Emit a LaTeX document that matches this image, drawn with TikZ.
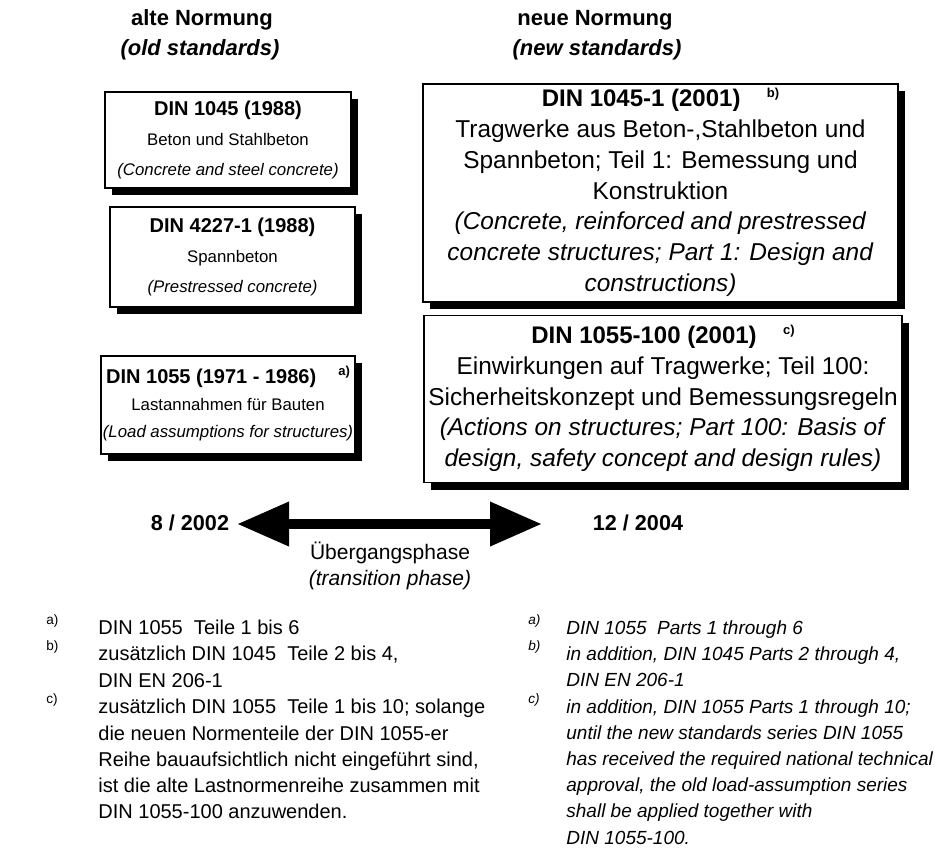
\documentclass[tikz,border=0pt]{standalone}
\usepackage{fontspec}
\setmainfont{Liberation Sans}
\usetikzlibrary{positioning,arrows.meta,shadows}
\newcommand{\oldtitle}[1]{{\fontsize{10}{15}\selectfont\bfseries #1}}
\newcommand{\newtitle}[1]{{\fontsize{12}{15}\selectfont\bfseries #1}}
\newcommand{\fnref}[1]{\hspace{1.1em}\smash{\raisebox{0.75ex}{\fontsize{6.5}{6.5}\selectfont\bfseries #1}}}

\begin{document}
\begin{tikzpicture}[
  x=0.5pt, y=-0.5pt,
  box/.style={draw=black, line width=0.75pt, fill=white, align=center, inner sep=1pt,
    drop shadow={shadow xshift=3.5pt, shadow yshift=-3.5pt, fill=black, opacity=1}},
  oldbox/.style={box, font=\fontsize{8.4}{15.2}\selectfont},
  newbox/.style={box, font=\fontsize{12.2}{15.4}\selectfont},
  head/.style={font=\fontsize{11}{14}\selectfont\bfseries},
  datum/.style={font=\fontsize{10.8}{14}\selectfont\bfseries},
  phase/.style={font=\fontsize{10.5}{13}\selectfont},
  note/.style={anchor=north west, inner sep=0pt, align=left, font=\fontsize{10}{13.1}\selectfont},
  noteE/.style={note, font=\fontsize{9.5}{13.1}\selectfont\itshape},
  fnmark/.style={anchor=north west, inner sep=0pt, font=\fontsize{6.8}{7}\selectfont},
  bigarrow/.style={line width=5pt, {Triangle[length=26pt,width=21pt]}-{Triangle[length=26pt,width=21pt]}}]

\useasboundingbox (0,0) rectangle (935,859);

% headings
\node[head] (alt) at (202,20) {alte Normung};
\node[head] (altE) at (200,50) {\itshape (old standards)};
\node[head] (neu) at (595,20) {neue Normung};
\node[head] (neuE) at (597,50) {\itshape (new standards)};

% old standards
\node[oldbox, minimum width=123pt, minimum height=48pt] (din1045) at (228,140)
  {\oldtitle{DIN 1045 (1988)}\\Beton und Stahlbeton\\\textit{(Concrete and steel concrete)}};
\node[oldbox, minimum width=122.5pt, minimum height=50pt] (din4227) at (232.5,257)
  {\oldtitle{DIN 4227-1 (1988)}\\Spannbeton\\\textit{(Prestressed concrete)}};
\node[oldbox, minimum width=123pt, minimum height=49pt, font=\fontsize{8.4}{13.5}\selectfont] (din1055) at (228,405)
  {\oldtitle{DIN 1055 (1971 - 1986)\fnref{a)}}\\Lastannahmen für Bauten\\\textit{(Load assumptions for structures)}};

% new standards
\node[newbox, minimum width=237.5pt, minimum height=109pt] (din10451) at (660.5,193)
  {\newtitle{DIN 1045-1 (2001)\fnref{b)}}\\Tragwerke aus Beton-,Stahlbeton und\\Spannbeton; Teil 1: Bemessung und\\Konstruktion\\
   \textit{(Concrete, reinforced and prestressed}\\\textit{concrete structures; Part 1: Design and}\\\textit{constructions)}};
\node[newbox, minimum width=239pt, minimum height=83.5pt] (din1055h) at (663,399)
  {\newtitle{DIN 1055-100 (2001)\fnref{c)}}\\Einwirkungen auf Tragwerke; Teil 100:\\Sicherheitskonzept und Bemessungsregeln\\
   \textit{(Actions on structures; Part 100: Basis of}\\\textit{design, safety concept and design rules)}};

% transition
\node[datum] (start) at (190,523) {8 / 2002};
\node[datum] (ende) at (638,523) {12 / 2004};
\coordinate (pl) at (237,524);
\coordinate (pr) at (542,524);
\draw[bigarrow] (pl) -- (pr);
\node[phase] (ueb) at (390,553) {Übergangsphase};
\node[phase] (trans) at (390,580) {\itshape (transition phase)};

% footnotes, german
\node[note] (fda) at (98,620) {DIN 1055\ \ Teile 1 bis 6};
\node[note] (fdb) at (98,646) {zusätzlich DIN 1045\ \ Teile 2 bis 4,\\DIN EN 206-1};
\node[note] (fdc) at (98,699) {zusätzlich DIN 1055\ \ Teile 1 bis 10; solange\\die neuen Normenteile der DIN 1055-er\\
  Reihe bauaufsichtlich nicht eingeführt sind,\\ist die alte Lastnormenreihe zusammen mit\\DIN 1055-100 anzuwenden.};
\node[fnmark] at (46,614) {a)};
\node[fnmark] at (46,640) {b)};
\node[fnmark] at (46,693) {c)};

% footnotes, english
\node[noteE] (fea) at (566,620) {DIN 1055\ \ Parts 1 through 6};
\node[noteE] (feb) at (566,646) {in addition, DIN 1045 Parts 2 through 4,\\DIN EN 206-1};
\node[noteE] (fec) at (566,699) {in addition, DIN 1055 Parts 1 through 10;\\until the new standards series DIN 1055\\
  has received the required national technical\\approval, the old load-assumption series\\shall be applied together with\\DIN 1055-100.};
\node[fnmark, font=\fontsize{6.8}{7}\selectfont\itshape] at (528,614) {a)};
\node[fnmark, font=\fontsize{6.8}{7}\selectfont\itshape] at (528,640) {b)};
\node[fnmark, font=\fontsize{6.8}{7}\selectfont\itshape] at (528,693) {c)};
\end{tikzpicture}
\end{document}
